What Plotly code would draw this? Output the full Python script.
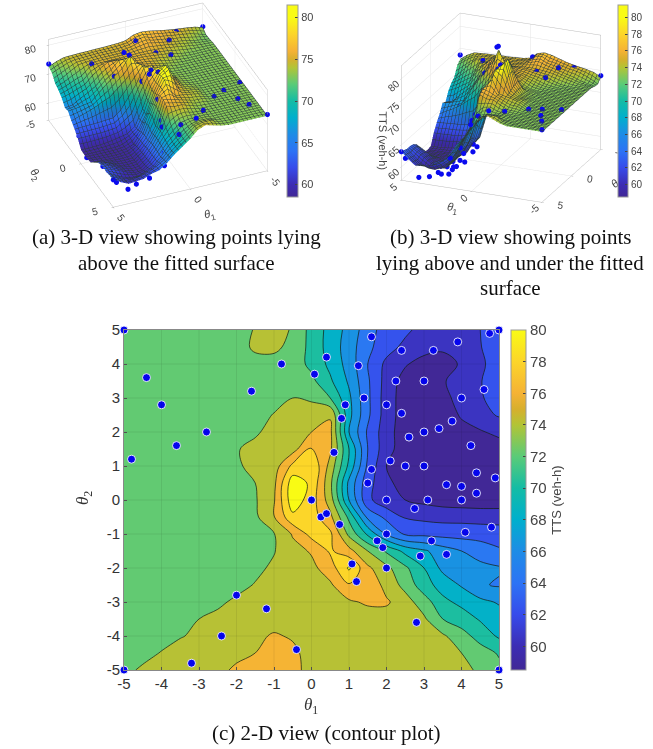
import plotly.graph_objects as go

W, H = 653, 749
theta1 = [-5,-4.5,-4,-3.5,-3,-2.5,-2,-1.5,-1,-0.5,0,0.5,1,1.5,2,2.5,3,3.5,4,4.5,5]
theta2 = [5,4.5,4,3.5,3,2.5,2,1.5,1,0.5,0,-0.5,-1,-1.5,-2,-2.5,-3,-3.5,-4,-4.5,-5]
tts = [
[73,73,73,73,73,73,73.4,74.1,74.8,73.8,71.3,69.3,67.3,64.9,63,62.4,61.3,61,60.8,62,63.5],
[73,73,73,73,73,73,73.3,74.3,74.3,73.6,71.3,69.2,67,64.5,62.8,61.5,60.8,60.3,60.5,61.9,63.3],
[73,73,73,73,73,73,73,73.4,73.5,73,71.5,69.5,67.2,64,61.5,60.2,59.2,59.3,60.2,61.6,63],
[73,73,73,73,73,73,73,73.2,73.1,73,72.5,70.3,67.7,64.3,61.2,59.2,58.9,59.8,60.9,61.9,63],
[73,73,73,73,73,73,73,73.1,73.3,74,73.7,72,68.4,64.4,61,59,58.8,59.5,60.6,61.8,62.8],
[73,73,73,73,73,73,73.2,73.3,74.1,75,75,75.8,68.6,64.4,61,59,58.7,59,60.2,61.3,62.2],
[73,73,73,73,73,73,73.7,73.8,74.5,75.2,76,76.5,68,63.7,60.8,58.9,58.7,58.8,59.4,59.8,60.5],
[73,73,73,73,73,73,73.9,74.4,74.8,75.2,78.2,76.4,70,64,60.7,59,58.7,58.6,58.7,58.8,59],
[73,73,73,73,73,73,73.9,74.2,75,78.5,79.8,75.3,69.5,63.6,60,59,58.7,58.6,58.6,58.6,58.7],
[73,73,73,73,73,73,73.5,74,75.5,81.2,79.6,74.5,67.5,62.7,60.5,59.1,58.7,58.6,58.6,58.6,58.6],
[73,73,73,73,73,73,73.2,73.8,75.8,81.3,79,75,68,62.5,60.6,60,59.5,59.1,58.9,58.8,58.8],
[73,73,73,73,73,73,73.1,73.6,75.9,79.5,79,76.5,71.5,65.5,63.5,61.8,61.5,61.3,61.3,61.2,61.2],
[73,73,73,73,73,73,73.1,73.4,73.9,76.2,78.7,78.4,73.5,69.6,65.8,63.7,63.5,63.3,63.2,63.1,62.9],
[73,73,73,73,73,73,73,73.2,73.9,75.3,76.2,78.3,76.7,74,71.7,69.4,68.3,67,66,65.2,64.3],
[73,73,73,73,73,73,73.2,73.6,74.3,75,75.5,77,80.3,76.4,74.5,72.4,70,67.5,67,66.5,66.2],
[73,73,73,73,73,73.2,73.5,74.1,74.5,75,75.3,75.7,77.8,77.8,75.2,73.4,70.8,69.2,67.8,66.2,65.8],
[73,73,73,73,73.2,73.7,74.3,74.6,74.9,75.2,75.3,75.4,75.7,76.3,76.3,74.8,73,70.5,69.5,68.5,67.8],
[72.9,73,73.2,73.6,74,74.4,74.8,75,75.2,75.2,75.2,75,75,75,75,74.9,74.3,72,71,69.8,68.9],
[72.6,72.9,73.3,73.9,74.3,74.8,75.2,75.6,76.2,75.8,75.3,75,74.9,74.9,74.9,74.8,74.6,74.3,72.8,71.2,69.7],
[72.5,73.4,74.1,74.6,74.9,75.3,75.7,76,76.8,76.4,75.3,75,74.9,74.9,74.9,74.8,74.7,74.6,74,72.9,71.8],
[73.5,74.3,74.7,75,75.3,75.7,76.2,76.7,77,76.6,75.3,75,74.9,74.8,74.8,74.7,74.7,74.6,74.5,73.7,72.5],
]
pt_theta1 = [-5,5,-5,5,-0.8,-4.4,-4,-1.6,-2.8,-3.6,-4.8,0.4,0.08,1.6,1.25,1.4,0.9,0.8,0.6,2.4,3.25,3.9,4.75,2.25,3,4.6,4,2,2.4,3.75,3.4,3,2.6,4.25,2.1,1.6,2.5,3,4.4,4.9,1.5,3.6,4,4.4,2,3.1,4,0,2.75,0.25,0.4,0.75,2,4.1,4.8,1.75,3.2,1.9,2.9,3.6,1.08,2,1.2,-2,-1.2,2.8,-2.4,-0.4,-3.2]
pt_theta2 = [5,5,-5,-5,4,3.6,2.8,3.2,2,1.6,1.2,4.2,3.7,4.8,3.95,3,2.8,2.4,1.4,4.4,4.4,4.65,4.9,3.5,3.5,3.25,3,2.8,2.55,2.32,2.1,2,1.85,1.6,1.15,0.9,1,1,0.8,0.65,0.5,0.45,0.4,0.2,0,0,0,0,-0.25,-0.5,-0.4,-0.72,-1,-0.95,-0.8,-1.2,-1.2,-1.4,-1.65,-1.6,-1.88,-2,-2.4,-2.8,-3.2,-3.6,-4,-4.4,-4.8]
pt_tts = [73.5,63.5,73.8,73.5,74.5,73.5,73.6,73.8,73.5,73.4,73.4,71,72.5,63.5,65,62.5,70,71,75,59,58,57.8,62,58,58,61,59,59,57.8,57.5,57.5,57.5,57.5,57,58,62,58,57.5,57.5,58,61,57.5,57,57,59,58,57.5,79.5,59,79,78,75,62,62,61,66.5,63.5,67,68,66.5,81,74.5,80.5,74.5,75,75,75.5,76.5,75]

color_levels = [58.5,60,62,64,66,68,70,72,74,75,76,78,80]
color_rgb = ["rgb(65,40,150)","rgb(60,45,180)","rgb(55,75,235)","rgb(45,115,245)","rgb(30,140,230)","rgb(0,175,205)",
             "rgb(20,188,165)","rgb(90,203,120)","rgb(178,196,54)","rgb(215,175,45)","rgb(245,178,53)","rgb(252,213,42)","rgb(249,251,20)"]
def scale(vmax):
    s = [[(v-58.5)/(vmax-58.5), c] for v,c in zip(color_levels,color_rgb)]
    if vmax > 80: s.append([1.0, "rgb(249,251,20)"])
    return s
parula_3d = scale(81.5)
parula_2d = scale(80)
mesh = dict(show=True, start=-5, end=5, size=0.25, color="#2b3a3a", width=1)

def cbar(x0, x1, y0, y1, dtick, size=11):
    return dict(x=x0/W, xanchor="left", thickness=x1-x0, thicknessmode="pixels",
                len=(y1-y0)/H, lenmode="fraction", y=1-(y0+y1)/2/H, yanchor="middle",
                xpad=0, ypad=0, dtick=dtick, tick0=60, ticks="inside", ticklen=3, tickcolor="#444",
                outlinecolor="#999", outlinewidth=1, borderwidth=0,
                tickfont=dict(family="Liberation Sans", size=size, color="#444"))

fig = go.Figure()
def add3d(scene, cb):
    fig.add_trace(go.Surface(x=theta1, y=theta2, z=tts, scene=scene, colorscale=parula_3d, cmin=58.5, cmax=81.5,
        colorbar=cb, contours=dict(x=mesh, y=mesh, z=dict(show=False)),
        lighting=dict(ambient=0.85, diffuse=0.35, specular=0.05, roughness=0.8)))
    fig.add_trace(go.Scatter3d(x=pt_theta1, y=pt_theta2, z=pt_tts, scene=scene, mode="markers",
        marker=dict(color="#0a0aee", size=3, line=dict(width=0)), showlegend=False))
add3d("scene", cbar(287,298,5,197,5))
add3d("scene2", cbar(618,628,5,197,2,10))

fig.add_trace(go.Contour(x=theta1, y=theta2, z=tts, colorscale=parula_2d, zmin=59.5, zmax=81, autocontour=False,
    contours=dict(start=60, end=80, size=2, coloring="fill", showlines=True),
    line=dict(color="rgba(20,30,20,0.9)", width=0.8), showscale=False, xaxis="x", yaxis="y"))
fig.add_trace(go.Scatter(x=pt_theta1, y=pt_theta2, mode="markers", cliponaxis=False, showlegend=False,
    marker=dict(color="#0505ee", size=8, line=dict(color="rgba(255,255,255,0.85)", width=1))))
fig.add_trace(go.Scatter(x=[None], y=[None], mode="markers", showlegend=False,
    marker=dict(color=[70], colorscale=parula_2d, cmin=58.5, cmax=80, showscale=True,
                colorbar={**cbar(511,526,330,670,2,15), "title":dict(text="TTS (veh-h)", side="right", font=dict(family="Liberation Sans", size=13, color="#444"))})))

for v in [-4,-3,-2,-1,0,1,2,3,4]:
    fig.add_shape(type="line", xref="x", yref="paper", x0=v, x1=v, y0=1-670/H, y1=1-330/H, line=dict(color="rgba(0,0,0,0.07)", width=1), layer="above")
    fig.add_shape(type="line", xref="paper", yref="y", x0=124/W, x1=499/W, y0=v, y1=v, line=dict(color="rgba(0,0,0,0.07)", width=1), layer="above")

def axis3d(title, tv, rng):
    return dict(title=dict(text=title, font=dict(family="Liberation Sans", size=11, color="#444")),
        range=rng, tickvals=tv, ticktext=[str(v) for v in tv], ticks="outside", ticklen=2, tickcolor="#aaa", showbackground=False, gridcolor="#e4e4e4", gridwidth=1,
        zeroline=False, showline=True, linecolor="#bbb", linewidth=1, mirror=True, showspikes=False,
        tickfont=dict(family="Liberation Sans", size=11, color="#444"))
T1, T2 = "<i>θ</i><sub>1</sub>", "<i>θ</i><sub>2</sub>"
ticks2d = [-5,-4,-3,-2,-1,0,1,2,3,4,5]
k1, k2 = 1.485, 1.355
fig.update_layout(
    width=W, height=H, autosize=False, margin=dict(l=0,r=0,t=0,b=0,autoexpand=False), paper_bgcolor="white", plot_bgcolor="white", showlegend=False,
    scene=dict(domain=dict(x=[8/W,308/W], y=[1-225/H,1-0/H]),
        xaxis=axis3d(T1,[-5,0,5],[-5,5]), yaxis=axis3d(T2,[-5,0,5],[-5,5]), zaxis=axis3d("TTS (veh-h)",[60,70,80],[54,82]),
        aspectmode="manual", aspectratio=dict(x=k1,y=k1,z=0.587*k1),
        camera=dict(center=dict(x=0,y=0,z=-0.08), eye=dict(x=.634,y=1.512,z=1.04), up=dict(x=0,y=0,z=1), projection=dict(type="orthographic"))),
    scene2=dict(domain=dict(x=[361/W,641/W], y=[1-225/H,1-0/H]),
        xaxis=axis3d(T1,[-5,0,5],[-5,5]), yaxis=axis3d(T2,[-5,0,5],[-5,5]), zaxis=axis3d("TTS (veh-h)",[60,65,70,75,80],[57,83]),
        aspectmode="manual", aspectratio=dict(x=k2,y=k2,z=0.81*k2),
        camera=dict(center=dict(x=0,y=0,z=-0.046), eye=dict(x=-.716,y=1.71,z=.704), up=dict(x=0,y=0,z=1), projection=dict(type="orthographic"))),
    xaxis=dict(domain=[124/W,499/W], range=[-5,5], tickvals=ticks2d, ticktext=[str(v) for v in ticks2d], ticks="inside", ticklen=3, tickcolor="#555", showgrid=False, zeroline=False, automargin=False,
        showline=True, mirror=True, linecolor="#888", tickfont=dict(family="Liberation Sans", size=15, color="#333")),
    yaxis=dict(domain=[1-670/H,1-330/H], range=[-5,5], tickvals=ticks2d, ticktext=[str(v) for v in ticks2d], ticks="inside", ticklen=3, tickcolor="#555", showgrid=False, zeroline=False, automargin=False,
        showline=True, mirror=True, linecolor="#888", tickfont=dict(family="Liberation Sans", size=15, color="#333")),
)
fig.add_annotation(text=T2, xref="paper", yref="paper", x=84/W, y=1-498/H, showarrow=False, textangle=-90, xanchor="center", yanchor="middle",
                   font=dict(family="Liberation Serif", size=17, color="#333"))
fig.add_annotation(text=T1, xref="paper", yref="paper", x=311/W, y=1-706/H, showarrow=False, xanchor="center", yanchor="middle",
                   font=dict(family="Liberation Serif", size=17, color="#333"))
caps = [("(a) 3-D view showing points lying",176,237),("above the fitted surface",176,263),
        ("(b) 3-D view showing points",510,237),("lying above and under the fitted",510,263),("surface",510,288),
        ("(c) 2-D view (contour plot)",326,733)]
for t,x,y in caps:
    fig.add_annotation(text=t, xref="paper", yref="paper", x=x/W, y=1-y/H, showarrow=False, xanchor="center", yanchor="middle",
                       font=dict(family="Liberation Serif", size=21, color="#111"))
fig.write_html("out.html", config=dict(displayModeBar=False), post_script="document.body.style.margin='0';document.documentElement.style.overflow='hidden';")
